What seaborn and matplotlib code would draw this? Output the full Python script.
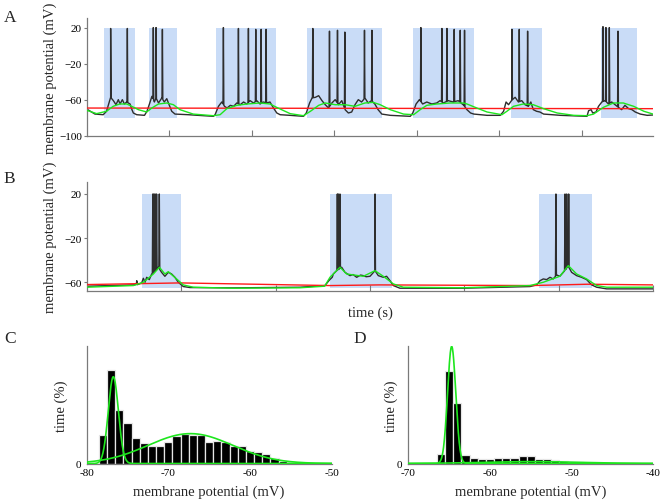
import numpy as np
import pandas as pd
import matplotlib
matplotlib.use("Agg")
import matplotlib.pyplot as plt
from matplotlib.patches import Rectangle
import seaborn as sns

# ---------------- data: panel A (membrane potential traces) ----------------
a_black_t = [0, 0.10, 0.20, 0.24, 0.29, 0.323, 0.355, 0.383, 0.404, 0.432, 0.456, 0.485, 0.525, 0.545,
             0.565, 0.606, 0.70, 0.73, 0.76, 0.79, 0.82, 0.84, 0.87, 0.91, 0.94, 0.97, 0.99, 1.03, 1.07,
             1.23, 1.535, 1.555, 1.596, 1.636, 1.67, 1.70, 1.74, 1.78, 1.818, 1.86, 1.90, 1.939, 1.98,
             2.02, 2.06, 2.10, 2.14, 2.18, 2.22, 2.263, 2.303, 2.343, 2.464, 2.626, 2.66, 2.70, 2.73,
             2.77, 2.81, 2.85, 2.89, 2.93, 2.97, 3.01, 3.05, 3.09, 3.13, 3.17, 3.21, 3.25, 3.29, 3.33,
             3.37, 3.41, 3.45, 3.49, 3.53, 3.575, 3.677, 3.92, 3.95, 3.99, 4.03, 4.07, 4.12, 4.18, 4.24,
             4.28, 4.32, 4.38, 4.44, 4.50, 4.565, 4.606, 4.65, 4.69, 4.85, 5.01, 5.05, 5.08, 5.11, 5.15,
             5.19, 5.23, 5.27, 5.31, 5.35, 5.38, 5.41, 5.45, 5.49, 5.535, 5.74, 6.06, 6.08, 6.11, 6.13,
             6.17, 6.20, 6.24, 6.28, 6.32, 6.36, 6.40, 6.44, 6.48, 6.52, 6.565, 6.605, 6.645, 6.706,
             6.79, 6.86]
a_black_v = [-70.4, -76.0, -76.7, -72.9, -57.4, -61.1, -65.6, -60.0, -64.8, -60.0, -64.8, -62.6, -64.8, -70.4,
             -74.8, -76.7, -77.4, -72.9, -64.8, -56.3, -62.6, -58.1, -63.7, -58.1, -62.6, -58.9, -63.7, -72.9, -76.0,
             -76.7, -78.5, -76.7, -67.4, -62.6, -67.4, -69.3, -66.3, -67.4, -63.7, -65.6, -62.6, -64.8, -61.1,
             -63.7, -61.1, -64.8, -62.6, -63.7, -62.6, -69.3, -74.8, -76.7, -77.4, -78.5, -74.8, -63.7, -58.1,
             -57.4, -55.6, -61.1, -65.6, -69.3, -63.7, -60.0, -65.6, -61.1, -71.1, -74.8, -73.7, -65.6, -60.0, -62.6,
             -58.1, -63.7, -61.1, -64.8, -71.1, -76.0, -77.4, -78.5, -74.8, -64.8, -60.0, -64.8, -62.6, -64.8, -63.7,
             -61.1, -63.7, -61.1, -62.6, -61.1, -66.0, -71.1, -74.8, -76.0, -77.4, -77.4, -72.9, -62.6, -65.6, -60.5,
             -57.4, -62.6, -61.1, -65.6, -67.4, -62.6, -71.1, -72.9, -73.7, -76.0, -77.4, -78.5, -72.2, -71.1, -74.8,
             -73.7, -67.4, -62.6, -61.1, -64.8, -62.6, -65.6, -68.5, -71.1, -66.3, -70.0, -71.1, -73.7, -76.0,
             -77.4, -77.0]
a_spike_t = [0.29, 0.4925, 0.807, 0.84, 0.917, 1.656, 1.838, 1.959, 2.048, 2.113, 2.173, 2.739, 2.941, 3.038,
             3.127, 3.365, 3.455, 4.048, 4.303, 4.364, 4.452, 4.525, 4.577, 5.152, 5.24, 5.341, 6.254, 6.29,
             6.331, 6.436]
a_spike_peak = [19, 19, 20, 20, 18, 20, 19, 19, 18, 18, 18, 19, 16, 17, 15, 17, 17, 20, 19, 19, 18, 17, 17,
                18, 18, 16, 21, 20, 20, 16]
a_green_t = [0, 0.12, 0.24, 0.32, 0.40, 0.485, 0.545, 0.626, 0.727, 0.788, 0.87, 0.97, 1.05, 1.13, 1.29, 1.535,
             1.616, 1.697, 1.818, 1.94, 2.10, 2.22, 2.30, 2.464, 2.626, 2.71, 2.81, 2.89, 3.01, 3.13, 3.25, 3.37,
             3.47, 3.555, 3.677, 3.838, 3.96, 4.04, 4.12, 4.24, 4.40, 4.565, 4.606, 4.727, 4.85, 5.03, 5.09, 5.17,
             5.29, 5.41, 5.535, 5.70, 5.90, 6.06, 6.14, 6.26, 6.38, 6.50, 6.626, 6.75, 6.86]
a_green_v = [-71.8, -75.5, -72.9, -67.4, -64.8, -64.8, -67.4, -71.1, -73.7, -69.3, -64.8, -63.7, -65.6, -71.1, -76.0,
             -77.8, -76.7, -70.0, -66.3, -64.8, -63.7, -64.8, -68.5, -75.5, -77.8, -72.9, -66.3, -63.7, -65.6, -65.6,
             -67.4, -63.7, -63.0, -65.6, -71.1, -76.0, -76.7, -71.1, -66.3, -64.8, -63.7, -63.7, -64.8, -69.3, -73.7,
             -76.7, -72.9, -67.4, -64.8, -65.6, -70.0, -74.8, -77.4, -77.8, -76.0, -68.5, -63.7, -63.7, -67.4, -72.9,
             -76.0]
a_red_t = [0, 6.86]
a_red_v = [-69.3, -70.0]
a_up_start = [0.21, 0.755, 1.567, 2.667, 3.952, 5.143, 6.23]
a_up_end = [0.585, 1.095, 2.295, 3.576, 4.686, 5.519, 6.667]

# ---------------- data: panel B ----------------
b_black_t = [0, 0.494, 0.525, 0.53, 0.537, 0.582, 0.60, 0.618, 0.635, 0.663, 0.688, 0.723, 0.758, 0.793, 0.828,
             0.864, 0.899, 0.934, 0.97, 1.023, 1.094, 1.553, 2.259, 2.523, 2.57, 2.60, 2.612, 2.647, 2.70, 2.735,
             2.788, 2.82, 2.859, 2.90, 2.929, 2.96, 3.0, 3.053, 3.088, 3.141, 3.176, 3.212, 3.247, 3.317, 3.988,
             4.694, 4.765, 4.80, 4.835, 4.871, 4.906, 4.94, 4.976, 5.01, 5.047, 5.10, 5.135, 5.188, 5.24, 5.294,
             5.347, 5.40, 5.506, 6.0]
b_black_v = [-63.6, -62.4, -62.0, -58.6, -62.2, -60.6, -56.4, -60.0, -55.5, -57.6, -52.5, -49.5, -46.4, -51.0, -54.6,
             -51.0, -52.5, -55.5, -60.0, -63.9, -64.8, -65.1, -64.5, -63.0, -58.0, -55.5, -52.5, -49.5, -46.4, -51.0,
             -54.0, -53.0, -55.5, -53.5, -54.0, -55.0, -54.6, -49.5, -54.0, -55.5, -54.6, -58.6, -63.0, -65.4, -65.4,
             -63.9, -62.4, -58.6, -57.0, -57.6, -55.5, -57.0, -53.4, -54.6, -51.0, -45.5, -51.0, -54.0, -55.5, -57.6,
             -62.4, -64.5, -66.0, -66.0]
b_spike_t = [0.700, 0.712, 0.725, 0.740, 0.769, 2.654, 2.664, 2.682, 3.053, 4.969, 5.065, 5.083, 5.104]
b_spike_peak = [20, 20, 20, 20, 20, 20, 20, 20, 20, 20, 20, 20, 20]
b_green_t = [0, 0.494, 0.60, 0.706, 0.77, 0.828, 0.864, 0.952, 1.023, 1.129, 1.553, 2.259, 2.52, 2.576, 2.682,
             2.753, 2.929, 3.053, 3.141, 3.247, 3.353, 3.988, 4.694, 4.835, 5.01, 5.10, 5.188, 5.294, 5.40, 5.506, 6.0]
b_green_v = [-64.5, -63.0, -60.0, -52.5, -46.4, -52.5, -50.4, -57.0, -62.4, -64.5, -65.4, -65.0, -63.6, -55.5, -46.4,
             -52.5, -54.6, -49.5, -54.6, -61.5, -64.5, -65.0, -63.0, -60.0, -54.6, -44.9, -52.5, -57.0, -63.0, -64.5,
             -64.5]
b_red_t = [0, 0.99, 2.58, 3.1, 4.7, 5.3, 6.0]
b_red_v = [-62.1, -60.6, -63.0, -62.4, -63.0, -61.8, -62.4]
b_up_start = [0.582, 2.576, 4.79]
b_up_end = [0.998, 3.23, 5.354]

# ---------------- data: panels C and D (histograms, % of time per 1 mV bin) ----------------
c_bins = [-78, -77, -76, -75, -74, -73, -72, -71, -70, -69, -68, -67, -66, -65, -64, -63, -62, -61, -60,
          -59, -58, -57, -56, -55, -54]
c_pct = [4.9, 16.2, 9.3, 7.0, 4.5, 3.5, 3.0, 3.0, 3.8, 4.8, 5.1, 4.9, 4.9, 3.8, 3.9, 3.7, 3.1, 3.0, 2.1,
         2.0, 1.6, 1.0, 0.5, 0.3, 0.1]
c_fit_mean = [-76.74, -67.3]
c_fit_sd = [0.62, 5.2]
c_fit_amp = [15.1, 5.2]

d_bins = [-66, -65, -64, -63, -62, -61, -60, -59, -58, -57, -56, -55, -54, -53, -52, -51, -50, -49, -48, -47, -46]
d_pct = [3.9, 38.9, 25.2, 3.7, 2.5, 1.8, 1.8, 2.5, 2.5, 2.5, 3.1, 3.1, 1.7, 2.0, 1.4, 1.1, 0.8, 0.5, 0.4, 0.3, 0.1]
d_fit_mean = [-64.69, -55.0]
d_fit_sd = [0.5, 6.0]
d_fit_amp = [49.1, 0.8]

# ---------------- style ----------------
sns.set_style("ticks")
plt.rcParams["font.family"] = ["Liberation Serif", "DejaVu Serif"]

BLACK = "#2e2e2e"
GREEN = "#1ee61e"
RED = "#ff1a1a"
BLUE = "#c9dcf7"
SPINE = "#7a7a7a"
TICK_FS = 8

W, H = 661, 502
fig = plt.figure(figsize=(W / 100, H / 100), dpi=100)


def add_ax(l, t, r, b):
    return fig.add_axes([l / W, 1 - b / H, (r - l) / W, (b - t) / H])


def ftext(x, y, s, **kw):
    fig.text(x / W, 1 - y / H, s, **kw)


def with_spikes(t, v, spikes, peaks, half=0.005):
    tt = list(t)
    vv = list(v)
    for s, p in zip(spikes, peaks):
        b0 = float(np.interp(s - half, t, v))
        b1 = float(np.interp(s + half, t, v))
        tt += [s - half, s, s + half]
        vv += [b0, p, b1]
    order = np.argsort(tt, kind="stable")
    return np.asarray(tt)[order], np.asarray(vv)[order]


def style_axes(ax):
    sns.despine(ax=ax)
    for side in ("left", "bottom"):
        ax.spines[side].set_color(SPINE)
        ax.spines[side].set_linewidth(0.9)
    ax.tick_params(width=0.8, color=SPINE, labelsize=TICK_FS, labelcolor="black")


def line(ax, t, v, color, lw, z):
    df = pd.DataFrame({"t": np.asarray(t, float), "v": np.asarray(v, float)})
    sns.lineplot(data=df, x="t", y="v", ax=ax, color=color, lw=lw, estimator=None, sort=False, zorder=z)


def trace_panel(ax, bt, bv, st, sp, gt, gv, rt, rv, us, ue, lo, hi):
    for s, e in zip(us, ue):
        ax.add_patch(Rectangle((s, lo), e - s, hi - lo, facecolor=BLUE, edgecolor="none", zorder=0))
    t, v = with_spikes(bt, bv, st, sp)
    line(ax, t, v, BLACK, 1.0, 2)
    line(ax, rt, rv, RED, 1.0, 3)
    line(ax, gt, gv, GREEN, 1.0, 4)
    ax.set_xlabel("")
    ax.set_ylabel("")
    style_axes(ax)
    ax.tick_params(axis="x", direction="in", length=4)
    ax.tick_params(axis="y", direction="out", length=2.5, pad=1)


# ---------------- panel A ----------------
axA = add_ax(86.7, 19.3, 653, 136.7)
trace_panel(axA, a_black_t, a_black_v, a_spike_t, a_spike_peak, a_green_t, a_green_v,
            a_red_t, a_red_v, a_up_start, a_up_end, -80, 20)
axA.set_xlim(0, 6.86)
axA.set_ylim(-100, 30.3)
axA.set_yticks([-100, -60, -20, 20])
axA.set_xticks([1, 2, 3, 4, 5, 6])
axA.set_xticklabels([])

# ---------------- panel B ----------------
axB = add_ax(86.7, 183.3, 653.3, 292.3)
trace_panel(axB, b_black_t, b_black_v, b_spike_t, b_spike_peak, b_green_t, b_green_v,
            b_red_t, b_red_v, b_up_start, b_up_end, -65.5, 20)
axB.set_xlim(0, 6.0)
axB.set_ylim(-68.2, 30.6)
axB.set_yticks([-60, -20, 20])
axB.set_xticks([1, 2, 3, 4, 5, 6])
axB.set_xticklabels([])


# ---------------- panels C, D ----------------
def hist_panel(ax, bins, pct, means, sds, amps, xlim, ylim_top, xticks):
    df = pd.DataFrame({"mv": np.asarray(bins, float), "pct": np.asarray(pct, float)})
    sns.histplot(data=df, x="mv", weights="pct", discrete=True, shrink=1.0, ax=ax, color="black",
                 edgecolor="#e6e6e6", linewidth=0.9, alpha=1.0, zorder=2)
    xs = np.linspace(xlim[0], xlim[1], 800)
    for m, s, a in zip(means, sds, amps):
        ax.plot(xs, a * np.exp(-0.5 * ((xs - m) / s) ** 2), color=GREEN, lw=1.2, zorder=3)
    ax.set_xlim(*xlim)
    ax.set_ylim(0, ylim_top)
    ax.set_xticks(xticks)
    ax.set_xticklabels([str(x) for x in xticks])
    ax.set_yticks([0])
    ax.set_ylabel("")
    ax.set_xlabel("")
    style_axes(ax)
    ax.tick_params(axis="x", length=0, pad=3.5)
    ax.tick_params(axis="y", length=0, pad=4.3)


axC = add_ax(86.7, 346.7, 331.7, 464.5)
hist_panel(axC, c_bins, c_pct, c_fit_mean, c_fit_sd, c_fit_amp, (-80, -50), 20.5, [-80, -70, -60, -50])
axD = add_ax(408.3, 346.7, 653.3, 464.5)
hist_panel(axD, d_bins, d_pct, d_fit_mean, d_fit_sd, d_fit_amp, (-70, -40), 49.4, [-70, -60, -50, -40])

# ---------------- labels ----------------
LS = 10.5
ftext(50, 78, "membrane potential (mV)", rotation=90, ha="center", va="center", size=LS)
ftext(50, 237, "membrane potential (mV)", rotation=90, ha="center", va="center", size=LS)
ftext(370, 313, "time (s)", ha="center", va="center", size=LS)
ftext(61.7, 406, "time (%)", rotation=90, ha="center", va="center", size=LS)
ftext(391.7, 406, "time (%)", rotation=90, ha="center", va="center", size=LS)
ftext(209, 492.5, "membrane potential (mV)", ha="center", va="center", size=LS)
ftext(530.7, 492.5, "membrane potential (mV)", ha="center", va="center", size=LS)

for lab, x, y in [("A", 10.3, 18.3), ("B", 9.5, 179.2), ("C", 10, 339), ("D", 360, 339)]:
    ftext(x, y, lab, ha="center", va="center", size=12.5)

fig.savefig("out.png", dpi=100)
